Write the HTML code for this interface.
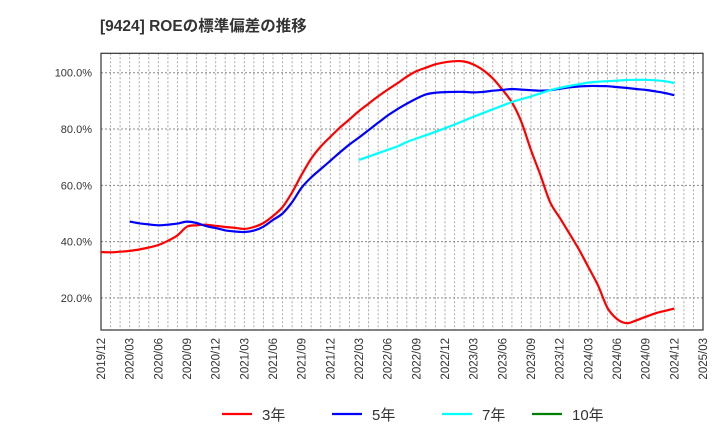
<!DOCTYPE html>
<html><head><meta charset="utf-8"><style>
body{margin:0;background:#fff;width:720px;height:440px;overflow:hidden;font-family:"Liberation Sans","Noto Sans CJK JP",sans-serif}
</style></head><body>
<svg id="chart" width="720" height="440" xmlns="http://www.w3.org/2000/svg">
<text x="100" y="31" font-size="15.5" font-weight="bold" fill="#333" font-family="Liberation Sans, Noto Sans CJK JP, sans-serif">[9424]  ROEの標準偏差の推移</text>
<g id="grid"></g><g id="axes"></g><g id="series"></g><g id="legend"></g>
</svg>
<script>
const xTickLabels=["2019/12","2020/03","2020/06","2020/09","2020/12","2021/03","2021/06","2021/09","2021/12","2022/03","2022/06","2022/09","2022/12","2023/03","2023/06","2023/09","2023/12","2024/03","2024/06","2024/09","2024/12","2025/03"];
const yTicks=[20,40,60,80,100];
const red3=[36.3,36.2,36.4,36.7,37.2,37.9,38.8,40.3,42.2,45.3,45.8,46.0,45.6,45.2,44.9,44.5,45.2,46.6,49.1,52.3,57.5,63.8,69.5,73.8,77.2,80.5,83.4,86.4,89.0,91.6,94.0,96.2,98.6,100.5,101.8,103.0,103.7,104.1,104.0,102.9,100.9,98.0,94.0,89.5,82.5,72.5,63.5,54.0,48.5,43.0,37.3,31.0,24.5,16.5,12.5,11.0,12.0,13.3,14.5,15.4,16.2];
const blue5Start=3;
const blue5=[47.1,46.5,46.1,45.8,46.0,46.4,47.1,46.6,45.5,44.8,44.0,43.6,43.4,43.9,45.3,47.7,50.0,54.0,59.2,62.8,65.8,68.7,71.7,74.5,77.0,79.6,82.2,84.8,87.0,89.0,90.8,92.3,92.9,93.1,93.2,93.2,93.0,93.2,93.6,93.9,94.2,94.0,93.8,93.6,93.8,94.3,94.8,95.1,95.3,95.3,95.2,94.9,94.6,94.2,93.9,93.4,92.8,92.0];
const cyan7Start=27;
const cyan7=[69.0,70.2,71.4,72.6,73.8,75.4,76.6,77.8,79.0,80.3,81.6,83.0,84.4,85.7,87.0,88.3,89.6,90.6,91.6,92.7,93.8,94.6,95.3,95.9,96.5,96.8,97.0,97.2,97.4,97.5,97.5,97.3,97.0,96.3];
const green10=[];
const L=101,R=703,T=53.3,B=330,yMin=8.6,yMax=106.9,nMonths=63;
const X=i=>L+(R-L)*i/nMonths;
const Y=v=>B-(v-yMin)/(yMax-yMin)*(B-T);
const NS="http://www.w3.org/2000/svg";
function mk(tag,attrs,parent){const e=document.createElementNS(NS,tag);for(const k in attrs)e.setAttribute(k,attrs[k]);parent.appendChild(e);return e;}
const grid=document.getElementById('grid'),axes=document.getElementById('axes'),series=document.getElementById('series'),legend=document.getElementById('legend');
for(let i=1;i<nMonths;i++){const l=mk('line',{x1:X(i),x2:X(i),y1:T,y2:B,stroke:'#aaa','stroke-width':1,'stroke-dasharray':'2,2'},grid);

}
yTicks.forEach(v=>{const l=mk('line',{x1:L,x2:R,y1:Y(v),y2:Y(v),stroke:'#888','stroke-width':1,'stroke-dasharray':'2,2'},grid);


const t=mk('text',{x:92,y:Y(v)+4,'text-anchor':'end','font-size':11,fill:'#333'},axes);t.textContent=v.toFixed(1)+'%';

});
const fr=mk('rect',{x:L,y:T,width:R-L,height:B-T,fill:'none',stroke:'#333','stroke-width':1.2},axes);


xTickLabels.forEach((s,k)=>{const x=X(k*3);const t=mk('text',{x:0,y:0,transform:`translate(${x+4},${B+8}) rotate(-90)`,'text-anchor':'end','font-size':11.5,fill:'#333'},axes);t.textContent=s;

});
function drawLine(arr,start,color,name){if(!arr.length)return;
const pts=arr.map((v,i)=>[X(start+i),Y(v)]);
let d='M'+pts[0][0].toFixed(1)+','+pts[0][1].toFixed(1);
for(let i=0;i<pts.length-1;i++){const p0=pts[Math.max(0,i-1)],p1=pts[i],p2=pts[i+1],p3=pts[Math.min(pts.length-1,i+2)];
const c1=[p1[0]+(p2[0]-p0[0])/6,p1[1]+(p2[1]-p0[1])/6],c2=[p2[0]-(p3[0]-p1[0])/6,p2[1]-(p3[1]-p1[1])/6];
d+='C'+c1[0].toFixed(1)+','+c1[1].toFixed(1)+' '+c2[0].toFixed(1)+','+c2[1].toFixed(1)+' '+p2[0].toFixed(1)+','+p2[1].toFixed(1);}
const p=mk('path',{d:d,fill:'none',stroke:color,'stroke-width':2.2,'stroke-linejoin':'round'},series);

}
drawLine(red3,0,'#ff0000','line-3yr');
drawLine(blue5,blue5Start,'#0000ff','line-5yr');
drawLine(cyan7,cyan7Start,'#00ffff','line-7yr');
drawLine(green10,0,'#008000','line-10yr');
const leg=[['3年','#ff0000',222],['5年','#0000ff',332],['7年','#00ffff',442],['10年','#008000',532]];
leg.forEach(([lab,c,x])=>{const g=mk('g',{},legend);


mk('line',{x1:x,x2:x+30,y1:414,y2:414,stroke:c,'stroke-width':2.2},g);
const t=mk('text',{x:x+40,y:420,'font-size':15,fill:'#333'},g);t.textContent=lab;});
</script>
</body></html>
